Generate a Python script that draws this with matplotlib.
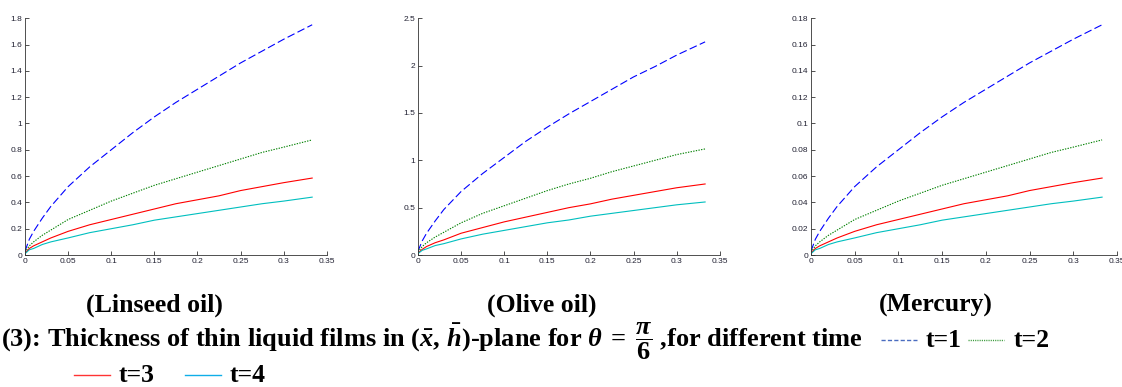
import numpy as np
import matplotlib
matplotlib.use("Agg")
import matplotlib.pyplot as plt
from matplotlib.lines import Line2D

plt.rcParams["font.family"] = ["Liberation Sans", "DejaVu Sans"]
plt.rcParams["mathtext.fontset"] = "custom"
plt.rcParams["mathtext.rm"] = "Liberation Serif:bold"
plt.rcParams["mathtext.it"] = "Liberation Serif:italic:bold"
plt.rcParams["mathtext.bf"] = "Liberation Serif:bold"

# sample positions along x
x = [0, 0.005, 0.01, 0.02, 0.03, 0.05, 0.075, 0.1, 0.125, 0.15, 0.175,
     0.2, 0.225, 0.25, 0.275, 0.3, 0.333]

# Linseed oil
lin_t1 = [0.03, 0.12, 0.18, 0.28, 0.37, 0.52, 0.67, 0.80, 0.93, 1.05, 1.16,
          1.26, 1.36, 1.46, 1.55, 1.64, 1.75]
lin_t2 = [0.02, 0.07, 0.10, 0.15, 0.19, 0.27, 0.34, 0.41, 0.47, 0.53, 0.58,
          0.63, 0.68, 0.73, 0.78, 0.82, 0.875]
lin_t3 = [0.015, 0.05, 0.07, 0.10, 0.13, 0.18, 0.23, 0.27, 0.31, 0.35, 0.39,
          0.42, 0.45, 0.49, 0.52, 0.55, 0.585]
lin_t4 = [0.01, 0.04, 0.05, 0.08, 0.10, 0.13, 0.17, 0.20, 0.23, 0.265, 0.29,
          0.315, 0.34, 0.365, 0.39, 0.41, 0.44]

# Olive oil
oli_t1 = [0.04, 0.15, 0.23, 0.36, 0.48, 0.67, 0.86, 1.03, 1.20, 1.35, 1.49,
          1.62, 1.75, 1.88, 1.99, 2.11, 2.25]
oli_t2 = [0.03, 0.09, 0.13, 0.19, 0.24, 0.34, 0.44, 0.52, 0.60, 0.68, 0.75,
          0.81, 0.88, 0.94, 1.00, 1.06, 1.12]
oli_t3 = [0.02, 0.06, 0.09, 0.13, 0.16, 0.23, 0.29, 0.35, 0.40, 0.45, 0.50,
          0.54, 0.59, 0.63, 0.67, 0.71, 0.75]
oli_t4 = [0.015, 0.05, 0.065, 0.10, 0.12, 0.17, 0.22, 0.26, 0.30, 0.34, 0.37,
          0.41, 0.44, 0.47, 0.50, 0.53, 0.56]

# Mercury
mer_t1 = [0.003, 0.012, 0.018, 0.028, 0.037, 0.052, 0.067, 0.080, 0.093, 0.105,
          0.116, 0.126, 0.136, 0.146, 0.155, 0.164, 0.175]
mer_t2 = [0.002, 0.007, 0.010, 0.015, 0.019, 0.027, 0.034, 0.041, 0.047, 0.053,
          0.058, 0.063, 0.068, 0.073, 0.078, 0.082, 0.0875]
mer_t3 = [0.0015, 0.005, 0.007, 0.010, 0.013, 0.018, 0.023, 0.027, 0.031, 0.035,
          0.039, 0.042, 0.045, 0.049, 0.052, 0.055, 0.0585]
mer_t4 = [0.001, 0.004, 0.005, 0.008, 0.010, 0.013, 0.017, 0.020, 0.023, 0.0265,
          0.029, 0.0315, 0.034, 0.0365, 0.039, 0.041, 0.044]

panels = [
    ("(Linseed oil)", [lin_t1, lin_t2, lin_t3, lin_t4], 1.8, 0.2),
    ("(Olive oil)", [oli_t1, oli_t2, oli_t3, oli_t4], 2.5, 0.5),
    ("(Mercury)", [mer_t1, mer_t2, mer_t3, mer_t4], 0.18, 0.02),
]
xticks = [0, 0.05, 0.1, 0.15, 0.2, 0.25, 0.3, 0.35]

styles = [
    dict(color="#0000ff", dashes=(7, 3)),
    dict(color="#008000", dashes=(1.2, 1.2)),
    dict(color="#ff0000", linestyle="-"),
    dict(color="#00bfbf", linestyle="-"),
]
# the small samples in the caption are drawn a bit lighter
legend_styles = [
    dict(color="#4a6cc0", dashes=(3, 1.6)),
    dict(color="#3a9a3a", dashes=(0.8, 0.8)),
    dict(color="#ff3333", linestyle="-"),
    dict(color="#10aee8", linestyle="-"),
]

fig = plt.figure(figsize=(11.22, 3.87), dpi=100)
lefts = [0.0223, 0.3725, 0.7228]
widths = [0.269, 0.269, 0.2727]
caption_x = [0.138, 0.483, 0.834]
FS = 18.5

for i, (name, series, ymax, ystep) in enumerate(panels):
    ax = fig.add_axes([lefts[i], 0.341, widths[i], 0.612])
    for ys, st in zip(series, styles):
        ax.plot(x, ys, lw=0.8, **st)
    ax.set_xlim(0, 0.35)
    ax.set_ylim(0, ymax)
    ax.set_xticks(xticks)
    ax.set_xticklabels(["%g" % v for v in xticks])
    yt = np.round(np.arange(0, ymax + ystep / 2, ystep), 4)
    ax.set_yticks(yt)
    ax.set_yticklabels(["%g" % v for v in yt])
    for s in ("top", "right"):
        ax.spines[s].set_visible(False)
    for s in ("left", "bottom"):
        ax.spines[s].set_linewidth(0.6)
        ax.spines[s].set_color("#333333")
    ax.tick_params(direction="in", length=3, width=0.6, labelsize=6,
                   colors="#333333", labelcolor="#222233", pad=2)
    fig.text(caption_x[i], 0.212, name, ha="center", va="center",
             family="Liberation Serif", weight="bold", fontsize=FS)

# caption line
fig.text(0.001, 0.117,
         r"(3): Thickness of thin liquid films in $(\bar{x},\,\bar{h})$-plane for "
         r"$\theta\;=\;\dfrac{\pi}{6}$ ,for different time",
         ha="left", va="center", family="Liberation Serif", weight="bold",
         fontsize=19.0)

# legend samples embedded in the caption
leg = [
    (0.785, 0.121, "t=1", legend_styles[0]),
    (0.863, 0.121, "t=2", legend_styles[1]),
    (0.066, 0.030, "t=3", legend_styles[2]),
    (0.165, 0.030, "t=4", legend_styles[3]),
]
for lx, ly, lab, st in leg:
    fig.lines.append(Line2D([lx, lx + 0.032], [ly, ly], transform=fig.transFigure,
                            lw=1.0, **st))
    fig.text(lx + 0.040, ly, lab, ha="left", va="center",
             family="Liberation Serif", weight="bold", fontsize=FS)

fig.savefig("out.png", dpi=100)
